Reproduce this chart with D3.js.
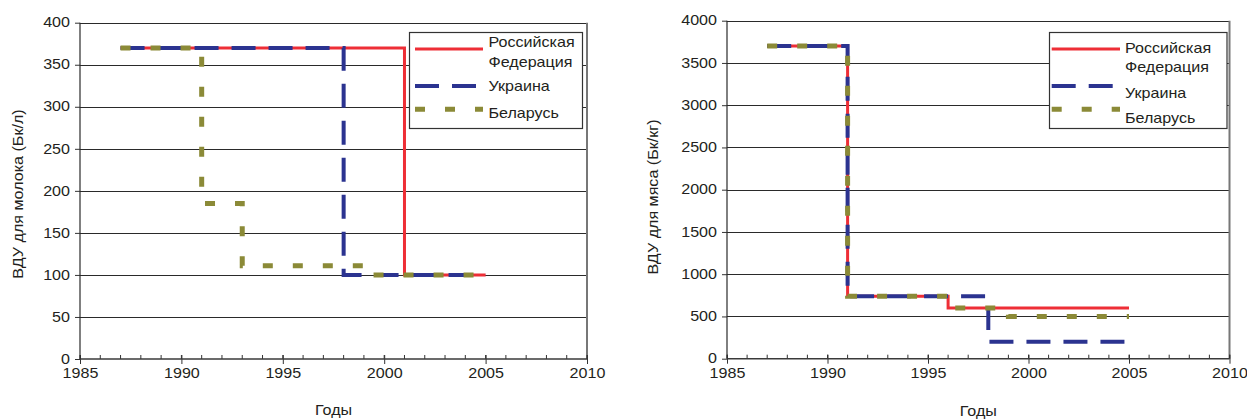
<!DOCTYPE html>
<html><head><meta charset="utf-8">
<script src="https://cdn.jsdelivr.net/npm/d3@7"></script>
<style>
body{margin:0;background:#fff}
text{font-family:"Liberation Sans",Arial,sans-serif;font-size:14px;fill:#231f20}
</style>
</head><body>
<svg id="c" width="1247" height="419"></svg>
<script>
// ---- data ----
const yearTicks = [1985, 1990, 1995, 2000, 2005, 2010];
const minorYears = d3.range(1985, 2011);
const legendLabels = [["Российская", "Федерация"], ["Украина"], ["Беларусь"]];
const milkTicks = [0, 50, 100, 150, 200, 250, 300, 350, 400];
const meatTicks = [0, 500, 1000, 1500, 2000, 2500, 3000, 3500, 4000];

const milkRussiaYears  = [1987, 2001, 2005];
const milkRussiaValues = [370, 100, 100];
const milkUkraineYears  = [1987, 1998, 2005];
const milkUkraineValues = [370, 100, 100];
const milkBelarusYears  = [1987, 1991, 1993, 1999, 2005];
const milkBelarusValues = [370, 185, 111, 100, 100];

const meatRussiaYears  = [1987, 1991, 1996, 2005];
const meatRussiaValues = [3700, 740, 600, 600];
const meatUkraineYears  = [1987, 1991, 1998, 2005];
const meatUkraineValues = [3700, 740, 200, 200];
const meatBelarusYears  = [1987, 1991, 1996, 1999, 2005];
const meatBelarusValues = [3700, 740, 600, 500, 500];

// ---- styles ----
const SX = 1.15;
const styles = [
  {color: "#ee2e36", width: 3, dash: null},
  {color: "#2b3390", width: 4, dash: "24,13"},
  {color: "#8b8a37", width: 5, dash: "10,20"}
];
const zip = (a, b) => a.map((v, i) => [v, b[i]]);
const svg = d3.select("#c");
const fmt = d3.format("d");

function draw(cfg) {
  const g = svg.append("g");
  const x = d3.scaleLinear().domain([1985, 2010]).range([cfg.left, cfg.right]);
  const y = d3.scaleLinear().domain([0, cfg.yMax]).range([cfg.bottom, cfg.top]);

  // gridlines
  g.append("g").selectAll("line").data(cfg.yTicks.filter(d => d > 0)).join("line")
    .attr("x1", cfg.left).attr("x2", cfg.right)
    .attr("y1", d => Math.round(y(d)) + 0.5).attr("y2", d => Math.round(y(d)) + 0.5)
    .attr("stroke", "#2a2a2a").attr("stroke-width", 1);

  // right border
  g.append("line").attr("x1", cfg.right).attr("x2", cfg.right)
    .attr("y1", cfg.top).attr("y2", cfg.bottom)
    .attr("stroke", "#777").attr("stroke-width", 2);

  // minor x ticks
  g.append("g").selectAll("line").data(minorYears).join("line")
    .attr("x1", d => x(d)).attr("x2", d => x(d))
    .attr("y1", cfg.bottom - 4).attr("y2", cfg.bottom)
    .attr("stroke", "#333").attr("stroke-width", 1);

  // x axis
  const xa = g.append("g").attr("transform", `translate(0,${cfg.bottom})`)
    .call(d3.axisBottom(x).tickValues(yearTicks).tickSizeInner(5).tickSizeOuter(0)
      .tickPadding(4).tickFormat(fmt));
  xa.select(".domain").remove();
  xa.selectAll(".tick line").attr("y1", -4).attr("stroke", "#333");
  xa.selectAll(".tick text").attr("font-size", 14).attr("font-family", null)
    .attr("transform", `scale(${SX},1)`).style("fill", "#231f20");
  g.append("line").attr("x1", cfg.left).attr("x2", cfg.right)
    .attr("y1", cfg.bottom).attr("y2", cfg.bottom)
    .attr("stroke", "#3a3a3a").attr("stroke-width", 1.6);

  // y axis
  const ya = g.append("g").attr("transform", `translate(${cfg.left},0)`)
    .call(d3.axisLeft(y).tickValues(cfg.yTicks).tickSize(5).tickPadding(5).tickFormat(fmt));
  ya.select(".domain").remove();
  ya.selectAll(".tick line").attr("stroke", "#333");
  ya.selectAll(".tick text").attr("font-size", 14).attr("font-family", null)
    .attr("x", -10 / SX).attr("dy", "0.3em")
    .attr("transform", `scale(${SX},1)`).style("fill", "#231f20");
  g.append("line").attr("x1", cfg.left).attr("x2", cfg.left)
    .attr("y1", cfg.top).attr("y2", cfg.bottom)
    .attr("stroke", "#2a2a2a").attr("stroke-width", 1.2);

  // series
  const line = d3.line().x(d => x(d[0])).y(d => y(d[1])).curve(d3.curveStepAfter);
  cfg.series.forEach((s, i) => {
    const st = styles[i];
    g.append("path").attr("d", line(s)).attr("fill", "none")
      .attr("stroke", st.color).attr("stroke-width", st.width)
      .attr("stroke-dasharray", st.dash);
  });

  // axis titles
  g.append("text").attr("text-anchor", "middle").attr("dy", "0.35em")
    .attr("transform", `translate(${cfg.yTitleX},${cfg.yTitleY}) rotate(-90) scale(${SX},1)`)
    .text(cfg.yTitle);
  g.append("text").attr("text-anchor", "middle").attr("dy", "0.35em")
    .attr("transform", `translate(${(cfg.left + cfg.right) / 2},${cfg.xTitleY}) scale(${SX},1)`)
    .text("Годы");

  // legend
  const L = cfg.legend;
  g.append("rect").attr("x", L.x0).attr("y", L.y0)
    .attr("width", L.x1 - L.x0).attr("height", L.y1 - L.y0)
    .attr("fill", "#fff").attr("stroke", "#333").attr("stroke-width", 1.2);
  styles.forEach((st, i) => {
    g.append("line").attr("x1", L.lx0).attr("x2", L.lx1)
      .attr("y1", L.lineY[i]).attr("y2", L.lineY[i])
      .attr("stroke", st.color).attr("stroke-width", st.width)
      .attr("stroke-dasharray", st.dash);
  });
  let row = 0;
  legendLabels.forEach(lbls => lbls.forEach(t => {
    g.append("text").attr("dy", "0.35em")
      .attr("transform", `translate(${L.tx},${L.textY[row]}) scale(${SX},1)`)
      .text(t);
    row++;
  }));
}

draw({
  left: 80, right: 587, top: 22.7, bottom: 359, yMax: 400, yTicks: milkTicks,
  series: [zip(milkRussiaYears, milkRussiaValues), zip(milkUkraineYears, milkUkraineValues),
           zip(milkBelarusYears, milkBelarusValues)],
  yTitle: "ВДУ для молока (Бк/л)", yTitleX: 18.5, yTitleY: 194, xTitleY: 410,
  legend: {x0: 409.5, y0: 32.5, x1: 582.5, y1: 128.5, lx0: 415, lx1: 483, tx: 488.5,
           lineY: [49, 86, 109.3], textY: [41.7, 61.7, 86, 112.7]}
});

draw({
  left: 727, right: 1229.5, top: 20.7, bottom: 358.7, yMax: 4000, yTicks: meatTicks,
  series: [zip(meatRussiaYears, meatRussiaValues), zip(meatUkraineYears, meatUkraineValues),
           zip(meatBelarusYears, meatBelarusValues)],
  yTitle: "ВДУ для мяса (Бк/кг)", yTitleX: 653.5, yTitleY: 197, xTitleY: 411,
  legend: {x0: 1049.5, y0: 32.5, x1: 1227, y1: 128.5, lx0: 1051.7, lx1: 1120, tx: 1125,
           lineY: [49, 86, 109.3], textY: [48.3, 66.7, 92.7, 118]}
});
</script>
</body></html>
